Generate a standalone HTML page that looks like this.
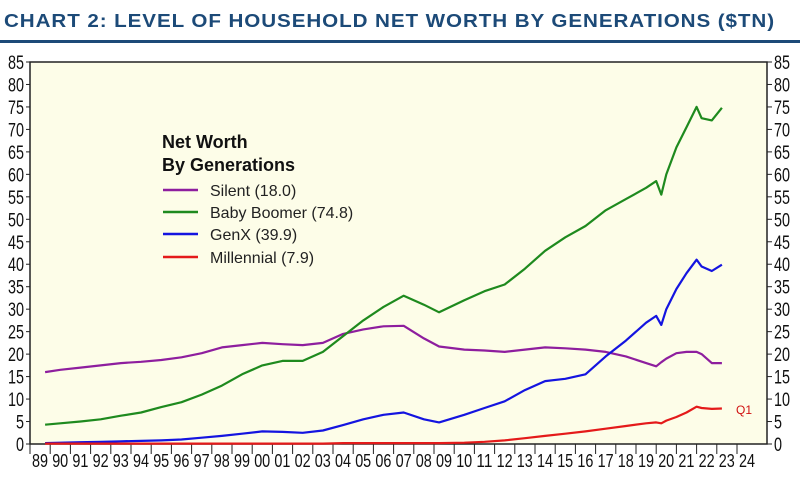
<!DOCTYPE html>
<html><head><meta charset="utf-8"><style>
body{margin:0;background:#fff;width:800px;height:476px;overflow:hidden;font-family:"Liberation Sans",Arial,sans-serif}
</style></head><body>
<svg id="chart" width="800" height="476" xmlns="http://www.w3.org/2000/svg" font-family="Liberation Sans, Arial, sans-serif">
<text x="4" y="27" font-size="18" font-weight="bold" fill="#1c4a78" letter-spacing="0.8" textLength="771" lengthAdjust="spacingAndGlyphs">CHART 2: LEVEL OF HOUSEHOLD NET WORTH BY GENERATIONS ($TN)</text>
<rect x="0" y="40" width="800" height="3" fill="#1c4a78"/>
<rect x="30" y="62" width="737" height="382" fill="#fdfde8" stroke="#222" stroke-width="1.5"/>
<g id="axes"></g>
<g id="series"></g>
<g>
<text x="162" y="148" font-size="18" font-weight="bold" fill="#111">Net Worth</text>
<text x="162" y="171" font-size="18" font-weight="bold" fill="#111">By Generations</text>
<line x1="163" y1="190" x2="198" y2="190" stroke="#8e1e9e" stroke-width="2.5"/><text x="210" y="196" font-size="16" fill="#222">Silent (18.0)</text>
<line x1="163" y1="212" x2="198" y2="212" stroke="#1e8a1e" stroke-width="2.5"/><text x="210" y="218" font-size="16" fill="#222">Baby Boomer (74.8)</text>
<line x1="163" y1="234" x2="198" y2="234" stroke="#1414e0" stroke-width="2.5"/><text x="210" y="240" font-size="16" fill="#222">GenX (39.9)</text>
<line x1="163" y1="257" x2="198" y2="257" stroke="#e41a1a" stroke-width="2.5"/><text x="210" y="263" font-size="16" fill="#222">Millennial (7.9)</text>
</g>
<text x="736" y="414" font-size="12" fill="#d01010">Q1</text>
</svg>
<script>
const times=[1989.75,1990.5,1991.5,1992.5,1993.5,1994.5,1995.5,1996.5,1997.5,1998.5,1999.5,2000.5,2001.5,2002.5,2003.5,2004.5,2005.5,2006.5,2007.5,2008.5,2009.25,2010.5,2011.5,2012.5,2013.5,2014.5,2015.5,2016.5,2017.5,2018.5,2019.5,2020.0,2020.25,2020.5,2021.0,2021.5,2022.0,2022.25,2022.75,2023.25];
const silent=[16,16.5,17,17.5,18,18.3,18.7,19.3,20.2,21.5,22,22.5,22.2,22,22.5,24.5,25.5,26.2,26.3,23.5,21.7,21,20.8,20.5,21,21.5,21.3,21,20.5,19.5,18,17.3,18.2,19,20.2,20.5,20.5,20,18,18];
const boomer=[4.3,4.6,5.0,5.5,6.3,7.0,8.2,9.3,11,13,15.5,17.5,18.5,18.5,20.5,24,27.5,30.5,33,31,29.3,32,34,35.5,39,43,46,48.5,52,54.5,57,58.5,55.5,60,66,70.5,75,72.5,72,74.8];
const genx=[0.2,0.3,0.4,0.5,0.6,0.7,0.8,1,1.4,1.8,2.3,2.8,2.7,2.5,3,4.2,5.5,6.5,7,5.5,4.8,6.5,8,9.5,12,14,14.5,15.5,19.5,23,27,28.5,26.5,30,34.5,38,41,39.5,38.5,39.9];
const millennial=[0.1,0.1,0.1,0.1,0.1,0.1,0.1,0.1,0.1,0.1,0.1,0.1,0.1,0.1,0.1,0.2,0.2,0.2,0.2,0.2,0.2,0.3,0.5,0.8,1.3,1.8,2.3,2.8,3.4,4,4.6,4.8,4.6,5.2,6,7,8.3,8,7.8,7.9];
const yTicks=[0,5,10,15,20,25,30,35,40,45,50,55,60,65,70,75,80,85];
const xLabels=["89","90","91","92","93","94","95","96","97","98","99","00","01","02","03","04","05","06","07","08","09","10","11","12","13","14","15","16","17","18","19","20","21","22","23","24"];
const NS="http://www.w3.org/2000/svg";
const X0=30,X1=767,Y0=444,Y1=62;
const yS=v=>Y0-(v/85)*(Y0-Y1);
const xS=t=>X0+(t-1989)*20.2;
function mk(tag,attrs,parent){const e=document.createElementNS(NS,tag);for(const k in attrs)e.setAttribute(k,attrs[k]);parent.appendChild(e);return e;}
const ax=document.getElementById('axes');
yTicks.forEach(v=>{
 const y=yS(v);
 const w=String(v).length*8;
 const t1=mk('text',{x:X0-6,y:y+7,'font-size':19,'text-anchor':'end',fill:'#111',textLength:w,lengthAdjust:'spacingAndGlyphs'},ax);t1.textContent=v;
 
 
 const t2=mk('text',{x:X1+7,y:y+7,'font-size':19,fill:'#111',textLength:w,lengthAdjust:'spacingAndGlyphs'},ax);t2.textContent=v;
 
 
 mk('line',{x1:X1,x2:X1+5,y1:y,y2:y,stroke:'#222'},ax);
 mk('line',{x1:X0-4,x2:X0,y1:y,y2:y,stroke:'#222'},ax);
});
xLabels.forEach((l,i)=>{
 const x=xS(1989+i);
 mk('line',{x1:x,x2:x,y1:Y0,y2:Y0+10,stroke:'#222'},ax);
 const t=mk('text',{x:x+2,y:Y0+23,'font-size':18,fill:'#111',textLength:16,lengthAdjust:'spacingAndGlyphs'},ax);t.textContent=l;
 
 
});
const sg=document.getElementById('series');
[[silent,'#8e1e9e','silent-line'],[boomer,'#1e8a1e','baby-boomer-line'],[genx,'#1414e0','genx-line'],[millennial,'#e41a1a','millennial-line']].forEach(([vals,c,n])=>{
 const d=vals.map((v,i)=>(i?'L':'M')+xS(times[i]).toFixed(1)+','+yS(v).toFixed(1)).join('');
 const p=mk('path',{d:d,fill:'none',stroke:c,'stroke-width':2.2,'stroke-linejoin':'round'},sg);
 
 
});
</script>
</body></html>
